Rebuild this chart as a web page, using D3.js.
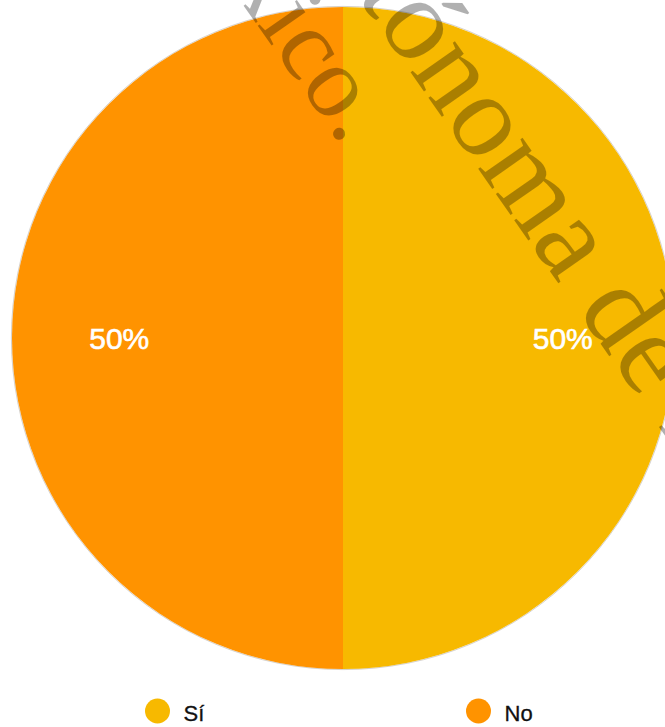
<!DOCTYPE html>
<html>
<head>
<meta charset="utf-8">
<script src="https://cdn.jsdelivr.net/npm/d3@7"></script>
<style>
  html, body { margin: 0; padding: 0; background: #fff; }
  svg { display: block; }
</style>
</head>
<body>
<svg id="chart" width="665" height="727"></svg>
<script>
// Answer categories, their counts and colours
const categories = ["Sí", "No"];
const values = [1, 1];
const colors = ["#F7B900", "#FF9300"];
// Watermark lines laid over the chart
const watermarkLines = ["México.", "Autónoma de México"];

const svg = d3.select("#chart");
const W = 665, H = 727;
const cx = 343, cy = 338, R = 331;

const data = categories.map((c, i) => ({ category: c, value: values[i] }));
const color = d3.scaleOrdinal().domain(categories).range(colors);
const total = d3.sum(values);

const pie = d3.pie().value(d => d.value).sort(null);
const arc = d3.arc().innerRadius(0).outerRadius(R);
const labelArc = d3.arc().innerRadius(R * 0.67).outerRadius(R * 0.67);

const g = svg.append("g").attr("transform", `translate(${cx},${cy})`);
const arcs = pie(data);

// faint rim beneath the pie
g.append("circle").attr("r", R + 0.6).attr("fill", "none")
  .attr("stroke", "#b9b2a8").attr("stroke-width", 1).attr("opacity", 0.6);

g.selectAll("path.slice").data(arcs).join("path")
  .attr("class", "slice")
  .attr("d", arc)
  .attr("fill", d => color(d.data.category));

g.append("g").attr("transform", "translate(-2,0)")
  .selectAll("text.pct").data(arcs).join("text")
  .attr("class", "pct")
  .attr("transform", d => {
    const [x, y] = labelArc.centroid(d);
    return `translate(${x},${y})`;
  })
  .attr("dy", "0.36em")
  .attr("text-anchor", "middle")
  .attr("font-family", "'Liberation Sans', Arial, sans-serif")
  .attr("font-size", 30)
  .attr("fill", "#fff")
  .attr("stroke", "#fff")
  .attr("stroke-width", 0.6)
  .text(d => Math.round(d.data.value / total * 100) + "%");

// legend
const legendX = [157.5, 478.5];
const legend = svg.append("g");
const items = legend.selectAll("g").data(categories).join("g")
  .attr("transform", (d, i) => `translate(${legendX[i]},711)`);
items.append("circle").attr("r", 12.5).attr("fill", d => color(d));
items.append("text")
  .attr("x", 26).attr("y", 10)
  .attr("font-family", "'Liberation Sans', Arial, sans-serif")
  .attr("font-size", 22)
  .attr("fill", "#111")
  .attr("stroke", "#111")
  .attr("stroke-width", 0.3)
  .text(d => d);

// watermark
const angle = 55;
const wm = svg.append("g").attr("fill", "#000").attr("fill-opacity", 0.31)
  .attr("font-family", "'Liberation Serif', 'Times New Roman', serif");

// first line: the closing period sits just left of the slice boundary
const t1 = wm.append("text")
  .attr("font-size", 102)
  .text(watermarkLines[0]);
const len1 = t1.node().getSubStringLength(0, watermarkLines[0].length - 1);
t1.attr("transform", `translate(328,126) rotate(${angle}) translate(${-len1},0)`);

// second line: place so that the "n" after "Autó" begins at the given point
const t2 = wm.append("text")
  .attr("font-size", 118)
  .text(watermarkLines[1]);
const lead = t2.node().getSubStringLength(0, 4);
t2.attr("transform", `translate(409,70) rotate(${angle}) translate(${-lead},0)`);
</script>
</body>
</html>
